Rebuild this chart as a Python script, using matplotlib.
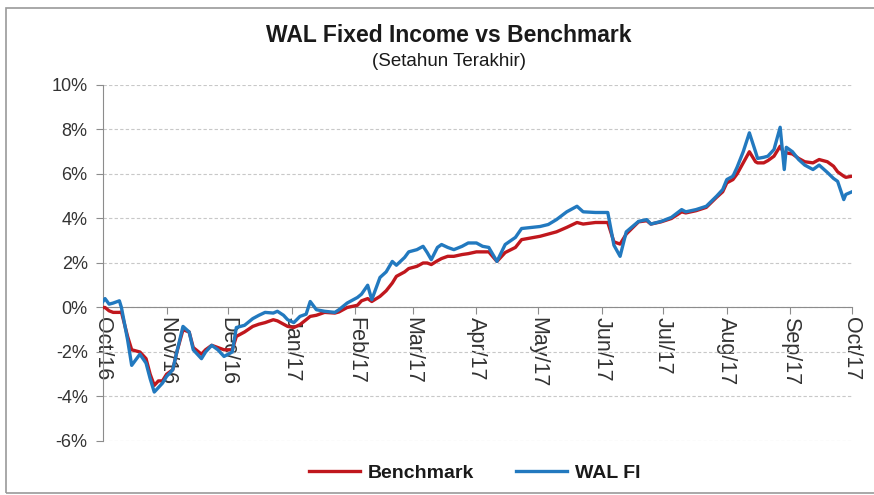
import matplotlib
matplotlib.use("Agg")
import matplotlib.pyplot as plt
import matplotlib.dates as mdates
from matplotlib.patches import Rectangle
from matplotlib.ticker import FuncFormatter, MultipleLocator
import pandas as pd

plt.rcParams['font.family'] = ['Liberation Sans', 'DejaVu Sans']

dates = [
    "2016-10-01", "2016-10-02", "2016-10-04", "2016-10-06", "2016-10-09", "2016-10-10",
    "2016-10-13", "2016-10-15", "2016-10-19", "2016-10-22", "2016-10-24", "2016-10-26",
    "2016-10-28", "2016-10-30", "2016-11-01", "2016-11-04", "2016-11-06", "2016-11-09",
    "2016-11-12", "2016-11-14", "2016-11-18", "2016-11-20", "2016-11-23", "2016-11-26",
    "2016-11-29", "2016-12-03", "2016-12-05", "2016-12-09", "2016-12-13", "2016-12-16",
    "2016-12-19", "2016-12-23", "2016-12-25", "2016-12-28", "2016-12-30", "2017-01-02",
    "2017-01-05", "2017-01-08", "2017-01-10", "2017-01-13", "2017-01-17", "2017-01-22",
    "2017-01-24", "2017-01-28", "2017-02-02", "2017-02-04", "2017-02-07", "2017-02-09",
    "2017-02-13", "2017-02-16", "2017-02-19", "2017-02-21", "2017-02-25", "2017-02-27",
    "2017-03-03", "2017-03-06", "2017-03-08", "2017-03-10", "2017-03-13", "2017-03-15",
    "2017-03-18", "2017-03-21", "2017-03-25", "2017-03-28", "2017-04-01", "2017-04-04",
    "2017-04-07", "2017-04-11", "2017-04-15", "2017-04-20", "2017-04-23", "2017-05-02",
    "2017-05-06", "2017-05-10", "2017-05-15", "2017-05-20", "2017-05-23", "2017-05-29",
    "2017-06-04", "2017-06-07", "2017-06-10", "2017-06-13", "2017-06-19", "2017-06-23",
    "2017-06-25", "2017-06-30", "2017-07-05", "2017-07-10", "2017-07-12", "2017-07-17",
    "2017-07-22", "2017-07-27", "2017-07-30", "2017-08-01", "2017-08-04", "2017-08-06",
    "2017-08-09", "2017-08-12", "2017-08-15", "2017-08-16", "2017-08-19", "2017-08-21",
    "2017-08-24", "2017-08-27", "2017-08-29", "2017-08-30", "2017-09-02", "2017-09-05",
    "2017-09-08", "2017-09-12", "2017-09-15", "2017-09-19", "2017-09-22", "2017-09-24",
    "2017-09-27", "2017-09-28", "2017-10-01",
]

benchmark = [
    0.0, 0.0, -0.15, -0.22, -0.22, -0.2,
    -1.3, -1.9, -2.0, -2.3, -3.0, -3.5,
    -3.3, -3.3, -3.0, -2.8, -2.0, -1.0,
    -1.1, -1.8, -2.1, -1.9, -1.7, -1.8,
    -1.9, -1.9, -1.3, -1.1, -0.85, -0.75,
    -0.68, -0.55, -0.6, -0.75, -0.85, -0.9,
    -0.77, -0.55, -0.4, -0.35, -0.22, -0.25,
    -0.2, 0.0, 0.1, 0.3, 0.4, 0.27,
    0.5, 0.75, 1.1, 1.4, 1.6, 1.75,
    1.85, 2.0, 2.0, 1.93, 2.1, 2.2,
    2.3, 2.3, 2.38, 2.42, 2.5, 2.5,
    2.5, 2.07, 2.47, 2.7, 3.05, 3.2,
    3.3, 3.4, 3.6, 3.82, 3.75, 3.82,
    3.82, 2.95, 2.85, 3.3, 3.85, 3.9,
    3.75, 3.85, 4.0, 4.3, 4.25, 4.35,
    4.5, 4.95, 5.2, 5.6, 5.75, 6.0,
    6.5, 7.0, 6.55, 6.5, 6.5, 6.6,
    6.8, 7.25, 6.9, 6.95, 6.9, 6.7,
    6.55, 6.5, 6.65, 6.55, 6.35, 6.1,
    5.9, 5.85, 5.9,
]

wal_fi = [
    0.27, 0.4, 0.15, 0.2, 0.3, 0.0,
    -1.45, -2.6, -2.1, -2.5, -3.2, -3.8,
    -3.6, -3.4, -3.1, -2.8, -2.0, -0.85,
    -1.1, -1.9, -2.3, -2.0, -1.7, -1.9,
    -2.2, -2.0, -0.9, -0.8, -0.5, -0.35,
    -0.22, -0.25, -0.17, -0.35, -0.55, -0.68,
    -0.4, -0.3, 0.27, -0.1, -0.17, -0.22,
    -0.1, 0.2, 0.45, 0.6, 1.0, 0.35,
    1.35, 1.6, 2.07, 1.9, 2.25, 2.5,
    2.6, 2.75, 2.47, 2.15, 2.7, 2.83,
    2.7, 2.6, 2.75, 2.9, 2.9, 2.75,
    2.7, 2.07, 2.83, 3.15, 3.55, 3.64,
    3.73, 3.95, 4.3, 4.55, 4.3, 4.27,
    4.27, 2.8, 2.3, 3.4, 3.87, 3.95,
    3.75, 3.87, 4.05, 4.4, 4.3, 4.4,
    4.55, 5.0, 5.3, 5.75, 5.9, 6.3,
    7.0, 7.85, 7.0, 6.7, 6.75, 6.8,
    7.1, 8.1, 6.2, 7.2, 7.0, 6.65,
    6.4, 6.2, 6.4, 6.07, 5.8, 5.67,
    4.85, 5.08, 5.2,
]

title = "WAL Fixed Income vs Benchmark"
subtitle = "(Setahun Terakhir)"

x = pd.to_datetime(dates)

fig = plt.figure(figsize=(8.74, 4.95), dpi=100)
ax = fig.add_axes([0.1178, 0.1091, 0.8570, 0.7192])

# outer chart frame
fig.patches.append(Rectangle((6 / 874, 2 / 495), 1.2, 485 / 495, transform=fig.transFigure,
                             fill=False, edgecolor="#9a9a9a", linewidth=1.2))

ax.plot(x, benchmark, color="#c0171d", linewidth=2.4, label="Benchmark", zorder=3)
ax.plot(x, wal_fi, color="#2279bf", linewidth=2.4, label="WAL FI", zorder=4)

ax.set_ylim(-6, 10)
ax.set_xlim(pd.Timestamp("2016-10-01"), pd.Timestamp("2017-10-01"))
ax.yaxis.set_major_locator(MultipleLocator(2))
ax.yaxis.set_major_formatter(FuncFormatter(lambda v, p: f"{v:.0f}%"))
ax.grid(axis="y", color="#c8c8c8", linestyle=(0, (3, 2)), linewidth=0.8)
ax.set_axisbelow(True)

ax.xaxis.set_major_locator(mdates.MonthLocator())
ax.xaxis.set_major_formatter(mdates.DateFormatter("%b/%y"))

for s in ["top", "right"]:
    ax.spines[s].set_visible(False)
ax.spines["bottom"].set_position(("data", 0))
ax.spines["bottom"].set_color("#8c8c8c")
ax.spines["left"].set_color("#8c8c8c")
ax.spines["bottom"].set_zorder(2)

ax.tick_params(axis="y", length=5, color="#8c8c8c", labelsize=13, labelcolor="#333333", pad=6)
ax.tick_params(axis="x", length=5, color="#8c8c8c", labelsize=15.5, labelcolor="#333333",
               labelrotation=270, pad=2)
for lbl in ax.get_xticklabels():
    lbl.set_verticalalignment("top")
    lbl.set_horizontalalignment("center")

fig.text(0.514, 0.928, title, ha="center", va="center", fontsize=16.5,
         fontweight="bold", color="#1a1a1a")
fig.text(0.514, 0.876, subtitle, ha="center", va="center", fontsize=13.5, color="#1a1a1a")

fig.legend(loc="center", bbox_to_anchor=(0.543, 0.045), ncol=2, frameon=False,
           handlelength=2.6, columnspacing=2.2, handletextpad=0.4,
           prop={"size": 14, "weight": "bold"}, labelcolor="#1a1a1a")

fig.savefig("out.png", dpi=100)
